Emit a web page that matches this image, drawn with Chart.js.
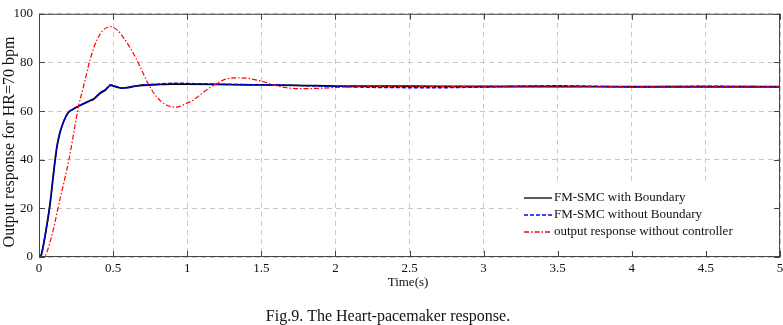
<!DOCTYPE html>
<html>
<head>
<meta charset="utf-8">
<script src="https://cdn.jsdelivr.net/npm/chart.js@4.4.1/dist/chart.umd.min.js"></script>
<style>
    html, body { margin: 0; padding: 0; background: #fff; }
    canvas { display: block; }
</style>
</head>
<body>
<canvas id="chart" width="783" height="325"></canvas>
<script>
const X_TICKS = [0, 0.5, 1, 1.5, 2, 2.5, 3, 3.5, 4, 4.5, 5];
const Y_TICKS = [0, 20, 40, 60, 80, 100];

// FM-SMC with Boundary (black solid)
const tWith = [0, 0.015, 0.03, 0.05, 0.075, 0.09, 0.105, 0.12, 0.139, 0.165, 0.195, 0.23, 0.263, 0.33, 0.37, 0.41, 0.45, 0.483,
               0.52, 0.568, 0.62, 0.68, 0.8, 0.9, 1.0, 1.2, 1.4, 1.6, 1.8, 2, 2.5, 3, 3.5, 4, 4.5, 5];
const yWith = [0, 0.8, 5, 12, 22, 30, 38, 45, 50.6, 55.5, 59.2, 60.8, 61.9, 63.9, 65, 67.2, 68.8, 70.6,
               70, 69.4, 69.9, 70.5, 70.9, 71.1, 71.1, 71, 70.8, 70.7, 70.5, 70.3, 70.2, 70.1, 70.1, 70, 70, 70];

// FM-SMC without Boundary (blue dashed)
const tWithout = [0, 0.015, 0.03, 0.05, 0.075, 0.09, 0.105, 0.12, 0.139, 0.165, 0.195, 0.23, 0.263, 0.33, 0.37, 0.41, 0.45, 0.483,
                  0.52, 0.568, 0.62, 0.68, 0.8, 0.93, 1.05, 1.2, 1.4, 1.6, 1.8, 2, 2.3, 2.7, 3, 3.5, 4, 4.5, 5];
const yWithout = [0, 0.8, 5, 12, 22, 30, 38, 45, 50.6, 55.5, 59.2, 60.8, 61.9, 63.9, 65.2, 67.4, 69, 70.8,
                  70.1, 69.4, 69.9, 70.6, 71.1, 71.5, 71.3, 71.1, 70.9, 70.8, 70.4, 70.1, 69.7, 69.6, 69.9, 70.4, 70, 70.2, 70];

// output response without controller (red dash-dot)
const tOpen = [0, 0.03, 0.05, 0.083, 0.105, 0.128, 0.15, 0.173, 0.202, 0.24, 0.267, 0.3, 0.344, 0.389, 0.433, 0.483,
               0.53, 0.568, 0.636, 0.68, 0.737, 0.793, 0.86, 0.925, 0.995, 1.04, 1.1, 1.175, 1.265, 1.355, 1.49, 1.58,
               1.67, 1.78, 1.9, 2.0, 2.2, 2.5, 3, 3.5, 4, 4.5, 5];
const yOpen = [0, 0, 1.5, 8, 13.5, 20, 26, 32, 40, 53, 62, 70, 81, 89, 93.3, 94.7,
               93.2, 90.4, 83.8, 78.5, 71.2, 65.9, 62.5, 61.6, 63.2, 64.5, 67.3, 70.5, 73.2, 73.7, 72.5, 70.8,
               69.6, 69.2, 69.4, 69.7, 70.1, 70.2, 70, 70, 70, 70, 70];

const LABELS = ['FM-SMC with Boundary', 'FM-SMC without Boundary', 'output response without controller'];

const SERIF = "'Liberation Serif', 'Times New Roman', serif";

function pts(ts, ys) { return ts.map((t, i) => ({ x: t, y: ys[i] })); }

const matlabFrame = {
    id: 'matlabFrame',
    afterDatasetsDraw(chart) {
        const { ctx, chartArea: a, scales } = chart;
        ctx.save();

        // legend box inside the axes
        const lx = 518, ly = 184, lw = 258, lh = 68;
        ctx.fillStyle = '#fff';
        ctx.fillRect(lx, ly, lw, lh);
        const rows = [
            { y: 198, color: '#000', dash: [] },
            { y: 215, color: '#0000ff', dash: [4, 2] },
            { y: 232, color: '#ff0000', dash: [5, 2, 1.5, 2] },
        ];
        ctx.font = '13px ' + SERIF;
        ctx.textBaseline = 'middle';
        ctx.textAlign = 'left';
        rows.forEach((r, i) => {
            ctx.beginPath();
            ctx.setLineDash(r.dash);
            ctx.strokeStyle = r.color;
            ctx.lineWidth = 1.3;
            ctx.moveTo(524, r.y);
            ctx.lineTo(552, r.y);
            ctx.stroke();
            ctx.setLineDash([]);
            ctx.fillStyle = '#111';
            ctx.fillText(LABELS[i], 554, r.y);
        });

        // box + inward ticks
        ctx.strokeStyle = '#444';
        ctx.lineWidth = 1;
        ctx.strokeRect(a.left + 0.5, a.top + 0.5, a.right - a.left - 1, a.bottom - a.top - 1);
        ctx.beginPath();
        X_TICKS.forEach(v => {
            const x = Math.round(scales.x.getPixelForValue(v)) + 0.5;
            ctx.moveTo(x, a.bottom); ctx.lineTo(x, a.bottom - 6);
            ctx.moveTo(x, a.top); ctx.lineTo(x, a.top + 6);
        });
        Y_TICKS.forEach(v => {
            const y = Math.round(scales.y.getPixelForValue(v)) + 0.5;
            ctx.moveTo(a.left, y); ctx.lineTo(a.left + 6, y);
            ctx.moveTo(a.right, y); ctx.lineTo(a.right - 6, y);
        });
        ctx.stroke();
        ctx.restore();
    },
    afterDraw(chart) {
        const ctx = chart.ctx;
        ctx.save();
        ctx.fillStyle = '#111';
        ctx.textAlign = 'center';
        ctx.textBaseline = 'middle';
        ctx.font = '13px ' + SERIF;
        ctx.fillText('Time(s)', 408, 283);
        ctx.font = '16px ' + SERIF;
        ctx.fillText('Fig.9. The Heart-pacemaker response.', 388, 317);
        ctx.translate(10, 142);
        ctx.rotate(-Math.PI / 2);
        ctx.font = '16px ' + SERIF;
        ctx.fillText('Output response for HR=70 bpm', 0, 0);
        ctx.restore();
    }
};

new Chart(document.getElementById('chart'), {
    type: 'line',
    data: {
        datasets: [
            { label: LABELS[0], data: pts(tWith, yWith), borderColor: '#000', borderWidth: 1.8, order: 2 },
            { label: LABELS[1], data: pts(tWithout, yWithout), borderColor: '#0000ff', borderWidth: 1.4, borderDash: [4, 2], order: 1 },
            { label: LABELS[2], data: pts(tOpen, yOpen), borderColor: '#ff0000', borderWidth: 1.2, borderDash: [5, 2, 1.5, 2], order: 0 },
        ]
    },
    options: {
        responsive: false,
        animation: false,
        elements: {
            point: { radius: 0 },
            line: { cubicInterpolationMode: 'monotone', fill: false }
        },
        layout: { padding: { top: 6, right: 3, left: 0, bottom: 0 } },
        plugins: {
            legend: { display: false },
            tooltip: { enabled: false },
            title: { display: false }
        },
        scales: {
            x: {
                type: 'linear',
                min: 0, max: 5,
                afterBuildTicks: s => { s.ticks = X_TICKS.map(v => ({ value: v })); },
                afterFit: s => { s.height = 68; s.paddingRight = 0; s.paddingLeft = 0; },
                ticks: {
                    color: '#111', font: { family: SERIF, size: 13 }, padding: 4, maxRotation: 0,
                    callback: v => String(v)
                },
                grid: { color: '#c8c8c8', drawTicks: false },
                border: { display: false, dash: [5, 4] }
            },
            y: {
                min: 0, max: 100,
                afterBuildTicks: s => { s.ticks = Y_TICKS.map(v => ({ value: v })); },
                afterFit: s => { s.width = 39; },
                ticks: { color: '#111', font: { family: SERIF, size: 13 }, padding: 6, callback: v => String(v) },
                grid: { color: '#c8c8c8', drawTicks: false },
                border: { display: false, dash: [5, 4] }
            }
        }
    },
    plugins: [matlabFrame]
});
</script>
</body>
</html>
